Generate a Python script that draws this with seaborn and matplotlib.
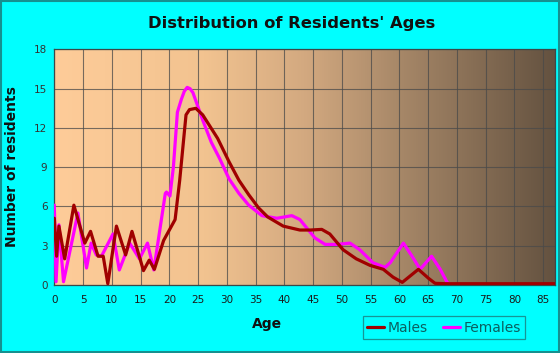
import matplotlib
matplotlib.use("Agg")
import matplotlib.pyplot as plt
import numpy as np
import pandas as pd
import seaborn as sns
from matplotlib.colors import LinearSegmentedColormap
from matplotlib.patches import Rectangle
from matplotlib.lines import Line2D

# Data
male_age = [0, 0.4, 0.8, 1.8, 3.4, 5.3, 6.3, 7.6, 8.5, 9.3, 10.8, 12.4, 13.5, 15.5, 16.5,
            17.4, 19.0, 21.0, 21.8, 22.7, 22.9, 23.5, 24.6, 25.8, 28.4, 30.4, 32.1, 33.8,
            35.5, 37.1, 39.8, 42.7, 44.5, 46.5, 47.9, 50.2, 52.5, 54.9, 57.2, 58.9, 60.5,
            63.3, 65.1, 66.2, 68, 87]
male_n = [5.1, 2.2, 4.5, 2.0, 6.1, 3.2, 4.1, 2.2, 2.2, 0.1, 4.5, 2.3, 4.1, 1.1, 1.9,
          1.2, 3.4, 5.0, 8.0, 12.1, 13.0, 13.4, 13.5, 13.0, 11.2, 9.4, 8.0, 6.9,
          5.9, 5.2, 4.5, 4.2, 4.2, 4.25, 3.9, 2.7, 2.0, 1.5, 1.2, 0.6, 0.2,
          1.2, 0.5, 0.13, 0.1, 0.1]

female_age = [0, 0.3, 0.8, 1.6, 4.1, 5.6, 6.4, 7.3, 8.2, 10.2, 11.3, 13.1, 14.8, 16.2,
              17.3, 19.3, 19.5, 20.1, 20.7, 21.4, 22.1, 22.6, 23.1, 23.6, 24.1, 25.8,
              27.3, 28.7, 30.4, 32.1, 33.8, 36.1, 38.7, 41.3, 42.7, 45.3, 47.1, 49.1,
              51.4, 53.1, 55.4, 57.5, 58.4, 60.7, 62.2, 63.6, 65.6, 67.1, 68.3, 69.0, 87]
female_n = [6.1, 0.25, 4.6, 0.25, 5.5, 1.3, 3.2, 2.3, 2.2, 3.9, 1.15, 3.2, 2.0, 3.2,
            1.15, 7.0, 7.1, 6.8, 9.0, 13.2, 14.2, 14.8, 15.1, 15.0, 14.7, 12.6,
            10.9, 9.7, 8.1, 7.0, 6.1, 5.3, 5.1, 5.3, 5.0, 3.6, 3.1, 3.1,
            3.2, 2.7, 1.7, 1.35, 1.7, 3.2, 2.2, 1.2, 2.2, 1.2, 0.2, 0, 0]

x_ticks = list(range(0, 90, 5))
y_ticks = [0, 3, 6, 9, 12, 15, 18]

df = pd.concat([
    pd.DataFrame({"age": female_age, "n": female_n, "sex": "Females"}),
    pd.DataFrame({"age": male_age, "n": male_n, "sex": "Males"}),
])

sns.set_style("white")
fig = plt.figure(figsize=(5.6, 3.53), dpi=100, facecolor="#00FFFF")
ax = fig.add_axes([0.097, 0.1926, 0.8935, 0.6674])

# gradient background
grad = LinearSegmentedColormap.from_list(
    "bg", [(0, "#FECC99"), (0.3, "#F2C390"), (0.5, "#D3A980"),
           (0.7, "#A58667"), (1.0, "#645240")])
ax.imshow(np.linspace(0, 1, 256).reshape(1, -1), cmap=grad, aspect="auto",
          extent=(0, 87, 0, 18), zorder=0)

sns.lineplot(data=df, x="age", y="n", hue="sex", hue_order=["Females", "Males"],
             palette={"Females": "#FF00FF", "Males": "#A00000"}, estimator=None,
             sort=False, linewidth=2.3, legend=False, ax=ax, zorder=3)
for ln in ax.lines:
    ln.set_solid_joinstyle("round")

ax.set_xlim(0, 87)
ax.set_ylim(0, 18)
ax.set_xticks(x_ticks)
ax.set_xticks(range(0, 88), minor=True)
ax.set_yticks(y_ticks)
ax.grid(True, color="#4A4A4A", linewidth=0.8, alpha=0.75)
for ln in ax.get_xgridlines() + ax.get_ygridlines():
    ln.set_zorder(1)
ax.tick_params(axis="x", which="both", direction="out", length=3, color="#336666",
               labelsize=7.5, labelcolor="#1A1A1A", pad=3)
ax.tick_params(axis="x", which="major", length=4)
ax.tick_params(axis="y", direction="out", length=4, color="#336666",
               labelsize=7.5, labelcolor="#333333", pad=1)
ax.set_xlabel("")
ax.set_ylabel("")
for s in ax.spines.values():
    s.set_color("#3A4A4A")
    s.set_linewidth(0.9)

fig.text(0.521, 0.933, "Distribution of Residents' Ages", ha="center", va="center",
         fontsize=11.8, fontweight="bold", color="#111111")
fig.text(0.477, 0.082, "Age", ha="center", va="center", fontsize=10,
         fontweight="bold", color="#111111")
fig.text(0.022, 0.527, "Number of residents", ha="center", va="center", rotation=90,
         fontsize=10, fontweight="bold", color="#111111")

handles = [Line2D([], [], color="#A00000", linewidth=2.3),
           Line2D([], [], color="#FF00FF", linewidth=2.3)]
leg = fig.legend(handles, ["Males", "Females"], loc="center",
                 bbox_to_anchor=(0.793, 0.072), ncol=2, frameon=True,
                 fontsize=10, handlelength=1.2, handletextpad=0.3,
                 columnspacing=1.1, borderpad=0.3, fancybox=False)
leg.get_frame().set_edgecolor("#1C7C7C")
leg.get_frame().set_facecolor("#00FFFF")
leg.get_frame().set_linewidth(0.9)
for t in leg.get_texts():
    t.set_color("#0A6060")

fig.patches.append(Rectangle((0.001, 0.002), 0.997, 0.995, transform=fig.transFigure,
                             fill=False, edgecolor="#169090", linewidth=1.5))

fig.savefig("out.png", dpi=100, facecolor=fig.get_facecolor())
